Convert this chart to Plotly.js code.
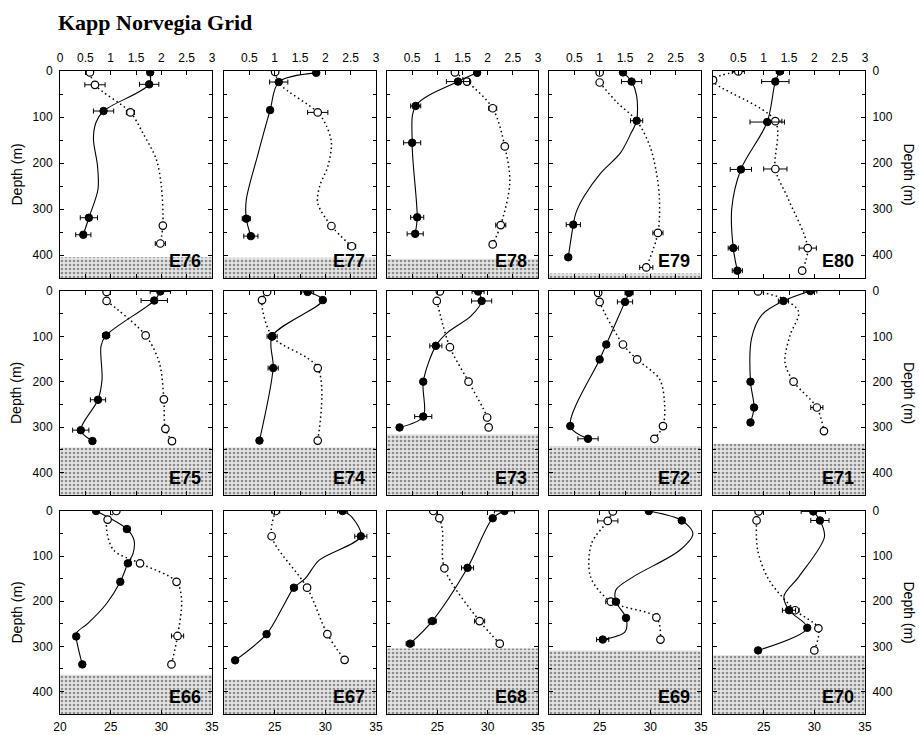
<!DOCTYPE html>
<html><head><meta charset="utf-8">
<script src="https://cdn.plot.ly/plotly-3.0.1.min.js"></script>
<style>html,body{margin:0;padding:0;background:#fff}#chart{width:919px;height:735px}</style>
</head><body><div id="chart"></div>
<script>
// ---------- DATA (panels in row-major order) ----------
const stations = ['E76','E77','E78','E79','E80','E75','E74','E73','E72','E71','E66','E67','E68','E69','E70'];

// filled circles (solid line profile)
const filledX = [
  [1.78,1.76,0.86,0.57,0.46],
  [1.82,1.08,0.91,0.44,0.53],
  [1.79,1.41,0.57,0.50,0.60,0.56],
  [1.46,1.63,1.73,0.48,0.38],
  [1.32,1.23,1.07,0.55,0.40,0.48],
  [1.98,1.86,0.91,0.75,0.41,0.64],
  [1.65,1.95,0.95,0.97,0.70],
  [1.81,1.88,0.97,0.72,0.72,0.25],
  [1.58,1.50,1.13,1.00,0.42,0.77],
  [1.92,1.39,0.74,0.81,0.74],
  [23.56,26.6,26.7,25.95,21.6,22.2],
  [31.7,33.5,26.9,24.2,21.1],
  [31.67,30.5,28.0,24.5,22.3],
  [29.85,33.1,26.6,27.6,25.3],
  [29.9,30.55,27.5,29.3,24.45]
];
const filledD = [
  [3,29,87,319,356],
  [4,24,85,321,359],
  [4,23,76,156,318,354],
  [3,23,108,334,405],
  [1,23,111,214,385,434],
  [1,21,98,240,307,331],
  [2,20,100,170,330],
  [1,22,121,200,277,301],
  [4,24,118,151,298,326],
  [0,22,200,257,290],
  [0,40,116,157,278,340],
  [0,56,170,273,331],
  [0,16,126,244,294],
  [0,21,201,237,285],
  [1,21,220,259,309]
];
const filledErr = [
  [0.05,0.19,0.2,0.17,0.15],
  [0.05,0.18,0.03,0.08,0.14],
  [0.05,0.23,0.1,0.17,0.13,0.16],
  [0.05,0.2,0.12,0.14,0.06],
  [0.07,0.27,0.34,0.21,0.1,0.1],
  [0.2,0.26,0.07,0.15,0.16,0.05],
  [0.12,0.05,0.1,0.1,0.05],
  [0.12,0.2,0.12,0.03,0.17,0.03],
  [0.08,0.15,0.05,0.03,0.03,0.2],
  [0.13,0.1,0.03,0.03,0.05],
  [0.2,0.3,0.3,0.2,0.2,0.2],
  [0.5,0.6,0.3,0.2,0.2],
  [1.0,0.2,0.6,0.4,0.4],
  [0.2,0.3,0.3,0.2,0.6],
  [1.2,0.9,0.65,0.2,0.2]
];
// open circles (dotted line profile)
const openX = [
  [0.59,0.69,1.39,2.03,1.98],
  [1.01,1.85,2.12,2.52],
  [1.35,1.59,2.10,2.34,2.26,2.10],
  [1.00,1.00,2.15,1.92],
  [0.50,0.00,1.23,1.23,1.87,1.76],
  [0.92,0.92,1.69,2.05,2.08,2.21],
  [0.85,0.75,0.95,1.85,1.85],
  [1.05,0.99,1.25,1.62,1.99,2.02],
  [0.97,1.00,1.46,1.74,2.25,2.08],
  [0.89,1.59,2.05,2.19],
  [25.56,24.7,27.9,31.5,31.6,31.0],
  [25.1,24.7,28.2,30.2,31.9],
  [24.6,25.2,25.7,29.2,31.2],
  [26.3,25.8,26.1,30.6,31.0],
  [24.5,24.3,28.1,30.4,30.0]
];
const openD = [
  [3,30,90,336,375],
  [2,90,337,381],
  [3,23,81,164,335,377],
  [3,25,352,427],
  [1,20,109,213,385,434],
  [2,22,98,239,304,331],
  [2,20,100,170,330],
  [1,22,124,200,279,301],
  [4,24,118,151,298,326],
  [1,200,257,309],
  [0,19,116,157,277,340],
  [0,56,170,273,330],
  [0,16,127,244,294],
  [1,22,201,236,285],
  [1,21,220,260,309]
];
const openErr = [
  [0.03,0.2,0.08,0.04,0.1],
  [0.03,0.2,0.04,0.08],
  [0.05,0.05,0.08,0.03,0.1,0.05],
  [0.02,0.02,0.1,0.13],
  [0.12,0.02,0.13,0.23,0.17,0.03],
  [0.03,0.03,0.03,0.03,0.03,0.06],
  [0.05,0.05,0.05,0.05,0.05],
  [0.03,0.03,0.03,0.05,0.03,0.05],
  [0.03,0.03,0.03,0.05,0.06,0.03],
  [0.03,0.05,0.12,0.05],
  [0.3,0.2,0.2,0.2,0.6,0.2],
  [0.4,0.2,0.3,0.2,0.3],
  [0.2,0.2,0.2,0.5,0.2],
  [0.2,1.0,0.5,0.2,0.2],
  [0.2,0.2,0.4,0.2,0.3]
];
// drawn profile curves
const solidPathX = [
  [1.78,1.76,0.86,0.71,0.66,0.74,0.75,0.57,0.46],
  [1.82,1.08,0.91,0.66,0.44,0.44,0.53],
  [1.79,1.41,0.57,0.50,0.60,0.56],
  [1.46,1.63,1.73,1.73,1.62,1.41,1.02,0.69,0.53,0.48,0.38],
  [1.32,1.23,1.07,0.55,0.37,0.40,0.48],
  [1.98,1.86,0.91,0.81,0.83,0.75,0.41,0.64],
  [1.65,1.95,0.95,0.97,0.70],
  [1.81,1.88,1.67,1.20,0.97,0.72,0.72,0.25],
  [1.58,1.50,1.13,1.00,0.42,0.77],
  [1.92,1.39,0.96,0.76,0.74,0.81,0.74],
  [23.56,26.6,27.3,27.2,26.7,25.95,24.6,22.7,21.7,21.6,22.2],
  [31.7,32.6,33.5,29.4,28.0,26.9,25.8,24.2,21.1],
  [31.67,30.5,28.0,24.5,22.3],
  [29.85,33.1,34.2,32.9,28.3,26.6,26.6,27.6,27.5,25.3],
  [29.9,30.55,31.0,28.5,27.0,27.5,29.3,24.45]
];
const solidPathD = [
  [3,29,87,112,148,206,257,319,356],
  [4,24,85,185,280,321,359],
  [4,23,76,156,318,354],
  [3,23,54,108,135,178,222,273,309,334,405],
  [1,23,111,214,299,385,434],
  [1,21,98,121,195,240,307,331],
  [2,20,100,170,330],
  [1,22,55,92,121,200,277,301],
  [4,24,118,151,298,326],
  [0,22,53,105,200,257,290],
  [0,40,64,95,116,157,205,250,268,278,340],
  [0,13,56,109,150,170,213,273,331],
  [0,16,126,244,294],
  [0,21,50,87,146,175,201,237,268,285],
  [1,21,57,145,189,220,259,309]
];
const dotPathX = [
  [0.59,0.69,1.39,1.63,1.90,2.00,2.03,1.98],
  [1.01,1.10,1.85,2.02,2.12,2.05,1.89,1.85,2.12,2.52],
  [1.35,1.59,2.10,2.34,2.44,2.26,2.10],
  [1.00,1.34,1.73,1.99,2.12,2.18,2.15,1.92],
  [0.50,0.00,1.23,1.23,1.48,1.87,1.76],
  [0.92,1.69,1.96,2.05,2.08,2.21],
  [0.85,0.75,0.95,1.85,1.85],
  [0.99,1.25,1.62,1.99,2.02],
  [0.97,1.00,1.46,1.74,2.18,2.28,2.25,2.08],
  [0.89,1.40,1.69,1.52,1.42,1.59,2.05,2.19],
  [25.56,24.7,24.6,25.3,27.9,31.5,32.0,31.6,31.0],
  [25.1,24.7,28.2,30.2,31.9],
  [24.6,25.2,25.5,25.7,29.2,31.2],
  [26.3,25.8,24.2,24.1,26.1,30.6,31.0],
  [24.3,24.4,25.5,28.1,30.4,30.0]
];
const dotPathD = [
  [3,30,90,134,192,250,336,375],
  [2,28,90,119,156,207,250,287,337,381],
  [3,23,81,164,243,335,377],
  [25,68,108,163,221,279,352,427],
  [1,20,109,213,277,385,434],
  [22,98,158,239,304,331],
  [2,20,100,170,330],
  [22,124,200,279,301],
  [4,24,118,151,194,246,298,326],
  [1,18,46,98,157,200,257,309],
  [0,19,42,87,116,157,198,277,340],
  [0,56,170,273,330],
  [0,16,42,127,244,294],
  [1,22,72,146,201,236,285],
  [21,86,152,220,260,309]
];
// depth (m) where the sea floor shading starts
const floorDepth = [405,406,408,440,452,345,345,316,342,337,363,374,305,309,320];

// tick labels
const topTickVals = [0,0.5,1,1.5,2,2.5,3];
const bottomTickVals = [20,25,30,35];
const depthTickVals = [0,100,200,300,400];

// ---------- LAYOUT GEOMETRY ----------
const W = 919, H = 735;
const colPx = [[60,212],[224,376],[387,538],[549,701],[713,865]];
const rowPx = [[71,278],[291,495],[511,714]];
const rowXRange = [[0,3],[0,3],[20,35]];
const depthRange = [450,0];
const FONT = 'Liberation Sans, Arial, Helvetica, sans-serif';

const traces = [];
const layout = {
  width: W, height: H,
  margin: {l:0,r:0,t:0,b:0},
  paper_bgcolor: '#fff', plot_bgcolor: '#fff',
  showlegend: false,
  font: {family: FONT, size: 12, color: '#000'},
  annotations: []
};

for (let i = 0; i < stations.length; i++) {
  const r = Math.floor(i/5), c = i % 5;
  const n = i + 1;
  const xs = n === 1 ? '' : String(n);
  const xr = rowXRange[r];
  const xDom = [colPx[c][0]/W, colPx[c][1]/W];
  const yDom = [1 - rowPx[r][1]/H, 1 - rowPx[r][0]/H];

  let tickvals, ticktext, side, showlabels;
  if (r === 2) { tickvals = bottomTickVals; side = 'bottom'; showlabels = true; }
  else { tickvals = topTickVals; side = 'top'; showlabels = (r === 0); }
  ticktext = tickvals.map((v,k) => (c > 0 && k === 0) ? '' : String(v));

  layout['xaxis'+xs] = {
    domain: xDom, range: xr, anchor: 'y'+xs, side: side,
    showline: true, linecolor: '#000', linewidth: 1, mirror: 'ticks',
    ticks: 'inside', ticklen: 4, tickcolor: '#000', tickwidth: 1,
    tickmode: 'array', tickvals: tickvals, ticktext: ticktext,
    showticklabels: showlabels, ticklabelstandoff: (r === 2 ? 2 : 3),
    tickfont: {family: FONT, size: 12, color: '#000'},
    showgrid: false, zeroline: false, fixedrange: true
  };
  layout['yaxis'+xs] = {
    domain: yDom, range: depthRange, anchor: 'x'+xs,
    side: c === 4 ? 'right' : 'left',
    showline: true, linecolor: '#000', linewidth: 1, mirror: 'ticks',
    ticks: 'inside', ticklen: 4, tickcolor: '#000', tickwidth: 1,
    tickmode: 'array', tickvals: depthTickVals,
    minor: {dtick: 50, tick0: 0, ticks: 'inside', ticklen: 3, tickcolor: '#000'},
    showticklabels: (c === 0 || c === 4), ticklabelstandoff: 4,
    tickfont: {family: FONT, size: 12, color: '#000'},
    showgrid: false, zeroline: false, fixedrange: true
  };

  const xa = 'x'+xs, ya = 'y'+xs;
  // sea floor
  if (floorDepth[i] < depthRange[0]) {
    traces.push({
      type: 'scatter', xaxis: xa, yaxis: ya, mode: 'lines',
      x: [xr[0], xr[1], xr[1], xr[0], xr[0]],
      y: [floorDepth[i], floorDepth[i], depthRange[0], depthRange[0], floorDepth[i]],
      fill: 'toself', fillcolor: '#d4d4d4',
      fillpattern: {shape: '.', bgcolor: '#e4e4e4', fgcolor: '#8c8c8c', size: 4, solidity: 0.35},
      line: {width: 0, color: 'rgba(0,0,0,0)'}, hoverinfo: 'skip'
    });
  }
  // dotted profile
  traces.push({
    type: 'scatter', xaxis: xa, yaxis: ya, mode: 'lines',
    x: dotPathX[i], y: dotPathD[i],
    line: {color: '#000', width: 1.5, dash: '1.5px,3px', shape: 'spline', smoothing: 0.9},
    hoverinfo: 'skip'
  });
  // solid profile
  traces.push({
    type: 'scatter', xaxis: xa, yaxis: ya, mode: 'lines',
    x: solidPathX[i], y: solidPathD[i],
    line: {color: '#000', width: 1.1, shape: 'spline', smoothing: 0.9},
    hoverinfo: 'skip'
  });
  // open circles
  traces.push({
    type: 'scatter', xaxis: xa, yaxis: ya, mode: 'markers',
    x: openX[i], y: openD[i],
    error_x: {type: 'data', array: openErr[i], visible: true, color: '#000', thickness: 1, width: 2.5},
    marker: {symbol: 'circle', size: 7.5, color: '#fff', line: {color: '#000', width: 1.2}}
  });
  // filled circles
  traces.push({
    type: 'scatter', xaxis: xa, yaxis: ya, mode: 'markers',
    x: filledX[i], y: filledD[i],
    error_x: {type: 'data', array: filledErr[i], visible: true, color: '#000', thickness: 1, width: 2.5},
    marker: {symbol: 'circle', size: 7.5, color: '#000', line: {color: '#000', width: 1}}
  });
  // station label
  layout.annotations.push({
    xref: 'paper', yref: 'paper', x: colPx[c][1]/W, y: 1 - rowPx[r][1]/H,
    xanchor: 'right', yanchor: 'bottom', xshift: -9, yshift: 5,
    text: '<b>' + stations[i] + '</b>', showarrow: false,
    font: {family: FONT, size: 18, color: '#000'}
  });
}

// title
layout.annotations.push({
  xref: 'paper', yref: 'paper', x: 56/W, y: 1 - 23/H, xanchor: 'left', yanchor: 'middle',
  text: '<b>Kapp Norvegia Grid</b>', showarrow: false,
  font: {family: 'Liberation Serif, Times New Roman, serif', size: 22, color: '#000'}
});
// depth axis titles
for (let r = 0; r < 3; r++) {
  const yc = 1 - (rowPx[r][0] + rowPx[r][1]) / 2 / H;
  layout.annotations.push({
    xref: 'paper', yref: 'paper', x: 16/W, y: yc, xanchor: 'center', yanchor: 'middle',
    text: 'Depth (m)', textangle: -90, showarrow: false,
    font: {family: FONT, size: 14, color: '#000'}
  });
  layout.annotations.push({
    xref: 'paper', yref: 'paper', x: 909/W, y: yc, xanchor: 'center', yanchor: 'middle',
    text: 'Depth (m)', textangle: 90, showarrow: false,
    font: {family: FONT, size: 14, color: '#000'}
  });
}

Plotly.newPlot('chart', traces, layout, {staticPlot: true, displayModeBar: false});
</script>
</body></html>
